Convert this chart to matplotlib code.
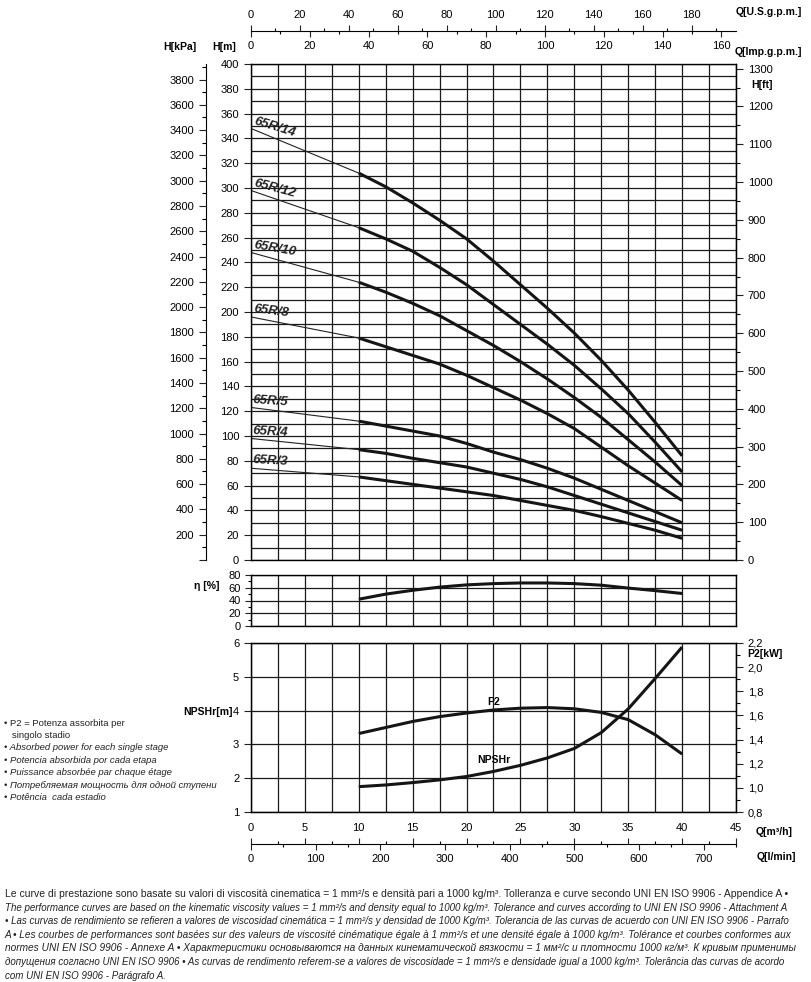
import numpy as np
import matplotlib
matplotlib.use('Agg')
import matplotlib.pyplot as plt
from matplotlib.ticker import MultipleLocator, FuncFormatter

plt.rcParams['font.family'] = ['Liberation Sans', 'DejaVu Sans']

# flow points (m3/h) of the thick part of each curve
q_curve = [10, 12.5, 15, 17.5, 20, 22.5, 25, 27.5, 30, 32.5, 35, 37.5, 40]

# pump models, head at Q=0 (start of the thin line) and head curves (m)
models = ['65R/14', '65R/12', '65R/10', '65R/8', '65R/5', '65R/4', '65R/3']
h_zero = [348, 298, 248, 196, 123, 98, 74]
h_14 = [312, 301, 288, 274, 259, 241, 222, 203, 183, 161, 137, 111, 84]
h_12 = [268, 259, 249, 236, 222, 206, 190, 174, 157, 138, 118, 95, 71]
h_10 = [224, 216, 207, 197, 185, 173, 160, 146, 131, 115, 97, 79, 60]
h_8 = [179, 172, 165, 158, 149, 139, 129, 118, 106, 91, 76, 62, 48]
h_5 = [112, 108, 104, 100, 94, 87, 81, 74, 66, 57, 48, 39, 30]
h_4 = [89, 86, 82, 78.5, 75, 70, 65, 59, 52, 45, 38, 31, 24]
h_3 = [67, 64, 61, 58, 55, 52, 48, 44, 40, 35, 29.5, 24, 17.5]
heads = [h_14, h_12, h_10, h_8, h_5, h_4, h_3]
label_rot = [-17, -15, -10, -7, -4, -3, -3]

# efficiency (%)
eta = [42, 50, 56, 61, 64.5, 66.5, 67.5, 67.5, 66.5, 64, 59.5, 55.5, 51]
# NPSHr (m) and P2 (kW)
npshr = [1.75, 1.8, 1.87, 1.95, 2.05, 2.2, 2.38, 2.6, 2.88, 3.35, 4.05, 4.95, 5.88]
p2 = [1.45, 1.50, 1.55, 1.59, 1.62, 1.645, 1.66, 1.665, 1.655, 1.625, 1.565, 1.44, 1.28]

W_PX, H_PX = 812, 982
fig = plt.figure(figsize=(W_PX / 100, H_PX / 100), dpi=100)


def fy(y):
    return 1 - y / H_PX


def ftext(x, y, s, **kw):
    return fig.text(x / W_PX, fy(y), s, **kw)


L = 251 / W_PX
WID = 485 / W_PX
GRID = dict(color='#1a1a1a', lw=0.9)
TICK = dict(labelsize=8, width=0.8, color='#222')
LAB = dict(fontsize=7.5, fontweight='bold', ha='center', va='center')
CURVE = dict(color='#151515', lw=2.2, solid_capstyle='butt')


def style_grid(a):
    a.set_xlim(0, 45)
    a.set_xticks(np.arange(0, 45.1, 2.5))
    a.tick_params(axis='x', length=0, labelbottom=False)
    a.grid(True, which='both', **GRID)
    for s in a.spines.values():
        s.set_linewidth(1.0)


# ---- head panel
ax = fig.add_axes([L, fy(560), WID, (560 - 64) / H_PX])
style_grid(ax)
ax.set_ylim(0, 400)
ax.yaxis.set_major_locator(MultipleLocator(20))
ax.yaxis.set_minor_locator(MultipleLocator(10))
ax.tick_params(axis='y', which='major', length=5, **TICK)
ax.tick_params(axis='y', which='minor', length=0)

for name, h0, h, rot in zip(models, h_zero, heads, label_rot):
    ax.plot([0, q_curve[0]], [h0, h[0]], color='#222', lw=0.8)
    ax.plot(q_curve, h, **CURVE)
    ax.text(0.15, h0 + 1.5, name, rotation=rot, rotation_mode='anchor',
            ha='left', va='bottom', fontsize=9.5, fontweight='bold',
            fontstyle='italic', color='#222')

kpa = ax.secondary_yaxis(-0.093, functions=(lambda h: h * 9.80665, lambda p: p / 9.80665))
kpa.yaxis.set_major_locator(MultipleLocator(200))
kpa.yaxis.set_minor_locator(MultipleLocator(100))
kpa.yaxis.set_major_formatter(FuncFormatter(lambda v, p: '' if v < 1 else f'{v:.0f}'))
kpa.tick_params(which='major', length=5, **TICK)
kpa.tick_params(which='minor', length=3, width=0.8)

ft = ax.secondary_yaxis('right', functions=(lambda h: h * 3.28084, lambda f: f / 3.28084))
ft.yaxis.set_major_locator(MultipleLocator(100))
ft.yaxis.set_minor_locator(MultipleLocator(50))
ft.tick_params(which='major', length=5, **TICK)
ft.tick_params(which='minor', length=3, width=0.8)

# ---- efficiency panel
ax2 = fig.add_axes([L, fy(626), WID, 51 / H_PX])
style_grid(ax2)
ax2.set_ylim(0, 80)
ax2.yaxis.set_major_locator(MultipleLocator(20))
ax2.yaxis.set_minor_locator(MultipleLocator(10))
ax2.grid(False, which='minor')
ax2.tick_params(axis='y', which='major', length=4, **TICK)
ax2.tick_params(axis='y', which='minor', length=2.5, width=0.8)
ax2.plot(q_curve, eta, **CURVE)

# ---- NPSHr / P2 panel
ax3 = fig.add_axes([L, fy(812), WID, 169 / H_PX])
style_grid(ax3)
ax3.set_ylim(1, 6)
ax3.yaxis.set_major_locator(MultipleLocator(1))
ax3.tick_params(axis='y', which='major', length=5, **TICK)
ax3.plot(q_curve, npshr, **CURVE)
ax3.text(22.5, 2.55, 'NPSHr', fontsize=7.5, fontweight='bold', ha='center', va='center')

ax3r = ax3.twinx()
ax3r.set_ylim(0.8, 2.2)
ax3r.yaxis.set_major_locator(MultipleLocator(0.2))
ax3r.yaxis.set_minor_locator(MultipleLocator(0.1))
ax3r.yaxis.set_major_formatter(FuncFormatter(lambda v, p: f'{v:.1f}'.replace('.', ',')))
ax3r.tick_params(which='major', length=5, **TICK)
ax3r.tick_params(which='minor', length=3, width=0.8)
ax3r.plot(q_curve, p2, **CURVE)
ax3r.text(22.5, 1.71, 'P2', fontsize=7.5, fontweight='bold', ha='center', va='center')

# ---- top flow scales (Imp gpm below the line, US gpm above)
axq = fig.add_axes([L, fy(31), WID, 0.0001])
axq.set_xlim(0, 45 * 3.666154)
axq.set_yticks([])
for k in ['top', 'left', 'right']:
    axq.spines[k].set_visible(False)
axq.xaxis.set_major_locator(MultipleLocator(20))
axq.xaxis.set_minor_locator(MultipleLocator(10))
axq.tick_params(which='major', length=4, **TICK)
axq.tick_params(which='minor', length=2.5, width=0.8)
us = axq.secondary_xaxis('top', functions=(lambda x: x * 1.200950, lambda u: u / 1.200950))
us.spines['top'].set_visible(False)
us.xaxis.set_major_locator(MultipleLocator(20))
us.xaxis.set_minor_locator(MultipleLocator(10))
us.tick_params(which='major', length=4, **TICK)
us.tick_params(which='minor', length=2.5, width=0.8)

# ---- bottom flow scales (m3/h above, l/min below)
axb = fig.add_axes([L, fy(844), WID, 0.0001])
axb.set_xlim(0, 45)
axb.set_yticks([])
for k in ['bottom', 'left', 'right']:
    axb.spines[k].set_visible(False)
axb.xaxis.set_ticks_position('top')
axb.xaxis.set_major_locator(MultipleLocator(5))
axb.xaxis.set_minor_locator(MultipleLocator(2.5))
axb.tick_params(which='major', length=4, labeltop=True, labelbottom=False, **TICK)
axb.tick_params(which='minor', length=2.5, width=0.8)
lmin = axb.secondary_xaxis('bottom', functions=(lambda x: x * 16.6667, lambda v: v / 16.6667))
lmin.spines['bottom'].set_visible(False)
lmin.xaxis.set_major_locator(MultipleLocator(100))
lmin.xaxis.set_minor_locator(MultipleLocator(50))
lmin.tick_params(which='major', length=4, **TICK)
lmin.tick_params(which='minor', length=2.5, width=0.8)

# ---- axis names
ftext(802, 12, 'Q[U.S.g.p.m.]', **{**LAB, 'ha': 'right'})
ftext(802, 52, 'Q[Imp.g.p.m.]', **{**LAB, 'ha': 'right'})
ftext(180, 47, 'H[kPa]', **LAB)
ftext(224, 47, 'H[m]', **LAB)
ftext(762, 85, 'H[ft]', **LAB)
ftext(207, 586, 'η [%]', **LAB)
ftext(208, 712, 'NPSHr[m]', **LAB)
ftext(765, 654, 'P2[kW]', **LAB)
ftext(774, 832, 'Q[m³/h]', **LAB)
ftext(776, 857, 'Q[l/min]', **LAB)

# ---- P2 note
note = [('• P2 = Potenza assorbita per', 'normal'),
        ('   singolo stadio', 'normal'),
        ('• Absorbed power for each single stage', 'italic'),
        ('• Potencia absorbida por cada etapa', 'italic'),
        ('• Puissance absorbée par chaque étage', 'italic'),
        ('• Потребляемая мощность для одной ступени', 'italic'),
        ('• Potência  cada estadio', 'italic')]
for i, (s, st) in enumerate(note):
    ftext(4, 723 + i * 12.4, s, fontsize=6.8, fontstyle=st,
          ha='left', va='center', color='#222')

# ---- footnote, each full line fitted to the text block width
foot = [('Le curve di prestazione sono basate su valori di viscosità cinematica = 1 mm²/s e densità pari a 1000 kg/m³. '
         'Tolleranza e curve secondo UNI EN ISO 9906 - Appendice A •', 'normal'),
        ('The performance curves are based on the kinematic viscosity values = 1 mm²/s and density equal to 1000 kg/m³. '
         'Tolerance and curves according to UNI EN ISO 9906 - Attachment A', 'italic'),
        ('• Las curvas de rendimiento se refieren a valores de viscosidad cinemática = 1 mm²/s y densidad de 1000 Kg/m³. '
         'Tolerancia de las curvas de acuerdo con UNI EN ISO 9906 - Parrafo', 'italic'),
        ('A • Les courbes de performances sont basées sur des valeurs de viscosité cinématique égale à 1 mm²/s et une '
         'densité égale à 1000 kg/m³. Tolérance et courbes conformes aux', 'italic'),
        ('normes UNI EN ISO 9906 - Annexe A • Характеристики основываются на данных кинематической вязкости = 1 мм²/с '
         'и плотности 1000 кг/м³. К кривым применимы', 'italic'),
        ('допущения согласно UNI EN ISO 9906 • As curvas de rendimento referem-se a valores de viscosidade = 1 mm²/s '
         'e densidade igual a 1000 kg/m³. Tolerância das curvas de acordo', 'italic'),
        ('com UNI EN ISO 9906 - Parágrafo A.', 'italic')]
renderer = fig.canvas.get_renderer()
size = 7.0
for i, (s, st) in enumerate(foot):
    t = ftext(5, 894 + i * 13.6, s, fontsize=7.0, fontstyle=st,
              ha='left', va='center', color='#222')
    if i < len(foot) - 1:
        w = t.get_window_extent(renderer).width
        size = 7.0 * 786 / w
    t.set_fontsize(size)

fig.savefig('out.png', dpi=100)
